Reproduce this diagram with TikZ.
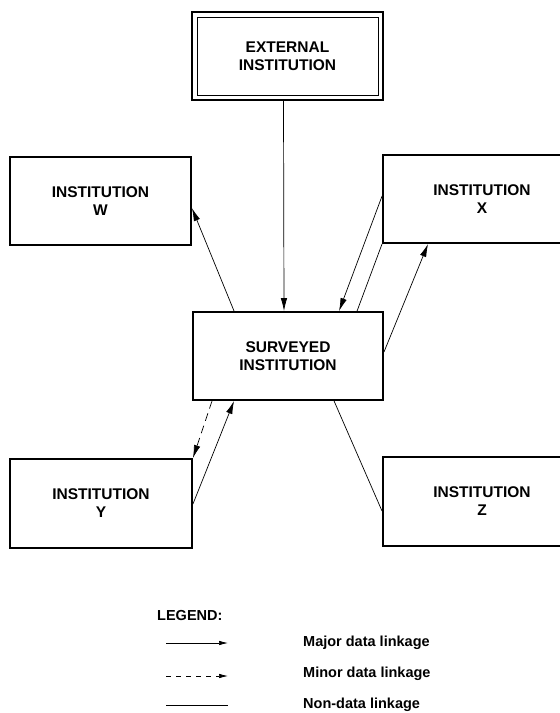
\documentclass[tikz,border=0pt]{standalone}
\usepackage{fontspec}
\setmainfont{Liberation Sans}
\usetikzlibrary{arrows.meta}

\begin{document}
\begin{tikzpicture}[x=1pt,y=-1pt,
  >={Latex[length=13pt,width=6.5pt]},
  inst/.style={draw,line width=1.9pt,minimum height=88pt,align=center,
    font=\fontsize{15.5}{18}\selectfont\bfseries},
  link/.style={line width=0.7pt},
  minor/.style={link,dash pattern=on 8pt off 5pt},
  lbl/.style={anchor=west,inner sep=0pt,font=\fontsize{14.5}{17}\selectfont\bfseries}]
\useasboundingbox (0,0) rectangle (560,713);
\clip (0,0) rectangle (560,713);
\node[inst,minimum width=191pt] (ext) at (287.5,56) {EXTERNAL\\INSTITUTION};
\draw[line width=0.8pt] ([shift={(6pt,-6pt)}]ext.north west) rectangle ([shift={(-6pt,6pt)}]ext.south east);
\node[inst,minimum width=181pt] (W) at (100.5,201) {INSTITUTION\\W};
\node[inst,minimum width=198pt] (X) at (482,199) {INSTITUTION\\X};
\node[inst,minimum width=190pt] (S) at (288,356) {SURVEYED\\INSTITUTION};
\node[inst,minimum width=182pt,minimum height=89pt] (Y) at (101,503.5) {INSTITUTION\\Y};
\node[inst,minimum width=198pt,minimum height=89pt] (Z) at (482,501.5) {INSTITUTION\\Z};

\draw[link,->] ([xshift=-4pt]ext.south) -- ([xshift=-4pt]S.north);
\draw[link,->] ([xshift=42pt]S.north west) -- ([yshift=-52pt]W.north east);
\draw[link,->] ([yshift=-42pt]X.north west) -- ([xshift=147pt]S.north west);
\draw[link] (X.south west) -- ([xshift=165pt]S.north west);
\draw[link,->] ([yshift=-41pt]S.north east) -- ([xshift=46pt]X.south west);
\draw[minor,->] ([xshift=20pt]S.south west) -- (Y.north east);
\draw[link,->] ([yshift=-46pt]Y.north east) -- ([xshift=42pt]S.south west);
\draw[link] ([xshift=142pt]S.south west) -- ([yshift=-55pt]Z.north west);

\node[lbl] (legend) at (157,615) {LEGEND:};
\coordinate (maj1) at (166,643);
\coordinate (maj2) at (228,643);
\coordinate (min1) at (166,676);
\coordinate (min2) at (228,676);
\coordinate (non1) at (166,705);
\coordinate (non2) at (228,705);
\draw[link,->,>={Latex[length=9pt,width=4.5pt]}] (maj1) -- (maj2);
\draw[link,->,>={Latex[length=9pt,width=4.5pt]},dash pattern=on 5pt off 5pt] (min1) -- (min2);
\draw[link] (non1) -- (non2);
\node[lbl] (majtxt) at (303,643) {Major data linkage};
\node[lbl] (mintxt) at (303,674) {Minor data linkage};
\node[lbl] (nontxt) at (303,705) {Non-data linkage};
\end{tikzpicture}
\end{document}
